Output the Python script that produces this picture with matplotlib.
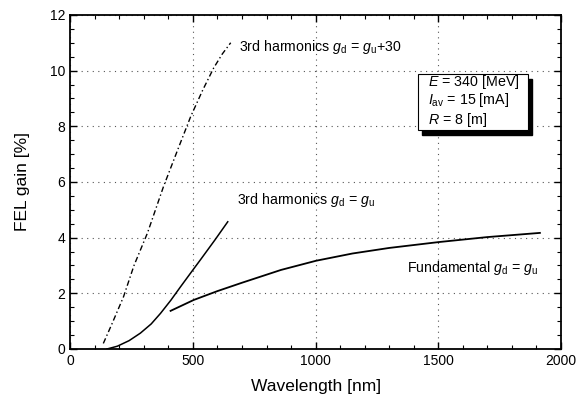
import matplotlib
matplotlib.use("Agg")
import matplotlib.pyplot as plt
from matplotlib.ticker import MultipleLocator
from matplotlib.patches import Rectangle

plt.rcParams['font.family'] = ['Liberation Sans', 'DejaVu Sans']
plt.rcParams['mathtext.fontset'] = 'custom'
plt.rcParams['mathtext.rm'] = 'Liberation Sans'
plt.rcParams['mathtext.it'] = 'Liberation Sans:italic'

# 3rd harmonics g_d = g_u + 30 (dash-dot)
h30_x = [135, 170, 217, 260, 315, 380, 440, 491, 540, 585, 620, 654]
h30_y = [0.2, 0.9, 1.87, 3.0, 4.17, 5.83, 7.2, 8.35, 9.3, 10.1, 10.6, 11.0]
# 3rd harmonics g_d = g_u (solid)
h3_x = [150, 192, 240, 286, 330, 368, 410, 450, 490, 532, 590, 642]
h3_y = [0.0, 0.1, 0.3, 0.57, 0.9, 1.28, 1.75, 2.24, 2.72, 3.22, 3.92, 4.57]
# Fundamental g_d = g_u (solid)
fund_x = [409, 503, 600, 700, 859, 1002, 1150, 1300, 1501, 1700, 1914]
fund_y = [1.37, 1.76, 2.08, 2.38, 2.84, 3.17, 3.43, 3.63, 3.84, 4.02, 4.17]

fig = plt.figure(figsize=(5.85, 4.03), dpi=100)
ax = fig.add_axes([0.12, 0.134, 0.839, 0.829])

ax.plot(h30_x, h30_y, color='black', lw=1.0, ls=(0, (4, 2, 1, 2)))
ax.plot(h3_x, h3_y, color='black', lw=1.1)
ax.plot(fund_x, fund_y, color='black', lw=1.3)

ax.set_xlim(0, 2000)
ax.set_ylim(0, 12)
ax.xaxis.set_major_locator(MultipleLocator(500))
ax.xaxis.set_minor_locator(MultipleLocator(100))
ax.yaxis.set_major_locator(MultipleLocator(2))
ax.yaxis.set_minor_locator(MultipleLocator(0.5))
ax.tick_params(which='both', direction='in', top=True, right=True, labelsize=10)
ax.tick_params(which='major', length=5, width=1.0)
ax.tick_params(which='minor', length=3, width=0.8)
for s in ax.spines.values():
    s.set_linewidth(1.3)
ax.grid(True, which='major', ls=(0, (1, 4)), color='#555555', lw=0.8)

ax.set_xlabel('Wavelength [nm]', fontsize=12.5, labelpad=8)
ax.set_ylabel('FEL gain [%]', fontsize=12.5, labelpad=14)

ax.text(687, 10.86, r'3rd harmonics $g_{\mathrm{d}}$ = $g_{\mathrm{u}}$+30', fontsize=10.2, va='center', ha='left')
ax.text(679, 5.36, r'3rd harmonics $g_{\mathrm{d}}$ = $g_{\mathrm{u}}$', fontsize=10.2, va='center', ha='left')
ax.text(1374, 2.91, r'Fundamental $g_{\mathrm{d}}$ = $g_{\mathrm{u}}$', fontsize=10.2, va='center', ha='left')

# parameter box with shadow
ax.add_patch(Rectangle((1435, 7.68), 446, 2.01, facecolor='black', edgecolor='black', zorder=4))
ax.add_patch(Rectangle((1419, 7.88), 446, 2.01, facecolor='white', edgecolor='black', lw=0.8, zorder=5))
ax.text(1460, 9.6, r'$E$ = 340 [MeV]', fontsize=10.3, va='center', ha='left', zorder=6)
ax.text(1460, 8.93, r'$I_{\mathrm{av}}$ = 15 [mA]', fontsize=10.3, va='center', ha='left', zorder=6)
ax.text(1460, 8.24, r'$R$ = 8 [m]', fontsize=10.3, va='center', ha='left', zorder=6)

fig.savefig('out.png', dpi=100)
